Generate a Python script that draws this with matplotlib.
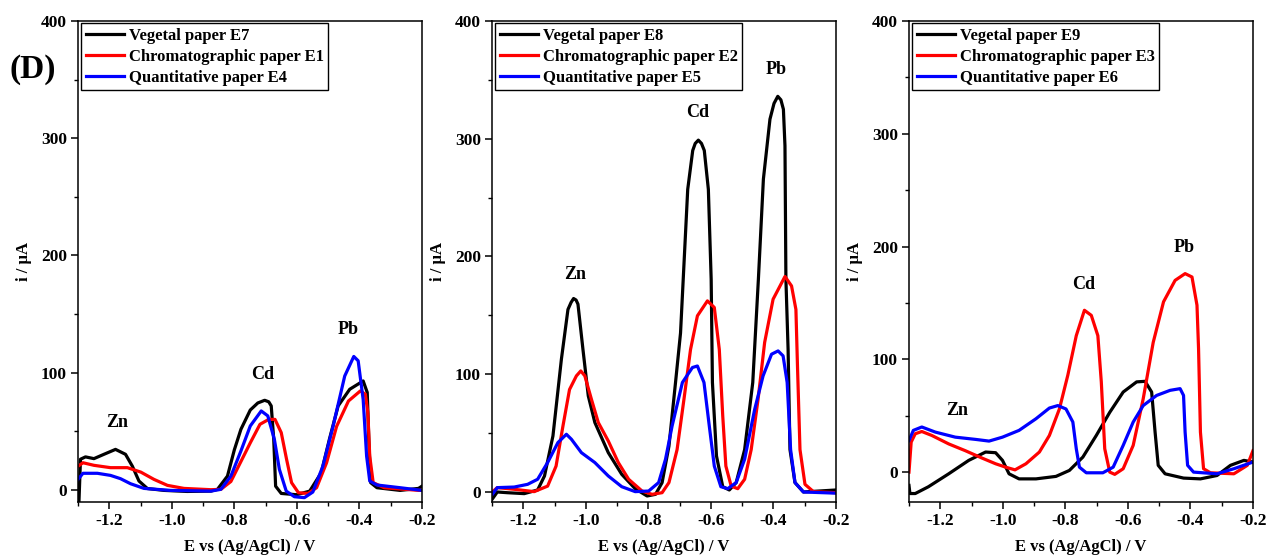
import matplotlib
matplotlib.use("Agg")
import matplotlib.pyplot as plt
from matplotlib.ticker import MultipleLocator

plt.rcParams['font.family'] = ['Liberation Serif', 'DejaVu Serif']
plt.rcParams['font.weight'] = 'bold'

# ---------------- Panel 1 (E7 / E1 / E4) ----------------
p1_black_x = [-1.297, -1.292, -1.276, -1.249, -1.217, -1.180, -1.148, -1.126, -1.105, -1.078, -1.025,
              -0.951, -0.875, -0.854, -0.822, -0.800, -0.779, -0.749, -0.725, -0.703, -0.690, -0.682,
              -0.674, -0.668, -0.650, -0.601, -0.559, -0.522, -0.496, -0.468, -0.431, -0.388, -0.375,
              -0.370, -0.364, -0.344, -0.270, -0.211, -0.200]
p1_black_y = [-11, 26, 28, 26.5, 30.2, 34.4, 30.2, 20, 7.4, 1, -0.6,
              -1.5, -1.2, 0.3, 11.6, 34, 51.5, 68, 74, 76.3, 75, 71.5,
              43, 3, -3.2, -4.3, -1.2, 14.5, 43, 71.5, 85.7, 92.8, 83,
              43, 6, 1.7, -0.6, 1.1, 3]

p1_red_x = [-1.300, -1.284, -1.249, -1.196, -1.142, -1.099, -1.057, -1.014, -0.961, -0.875, -0.843,
            -0.811, -0.779, -0.749, -0.718, -0.690, -0.670, -0.650, -0.633, -0.617, -0.595, -0.564,
            -0.537, -0.505, -0.473, -0.435, -0.397, -0.381, -0.373, -0.367, -0.356, -0.321, -0.210, -0.200]
p1_red_y = [20, 23, 20.8, 18.8, 18.8, 15, 8.8, 3.7, 1.1, 0, 0.3,
            7, 24, 40, 55.8, 60, 60, 48.7, 26, 6, -2.6, -3.2,
            1.7, 23, 54, 75.7, 84.3, 81.5, 65.8, 28.7, 6, 1.7, -0.6, -0.5]

p1_blue_x = [-1.300, -1.284, -1.238, -1.196, -1.164, -1.132, -1.089, -1.004, -0.875, -0.843, -0.811,
             -0.779, -0.749, -0.714, -0.693, -0.672, -0.656, -0.634, -0.608, -0.576, -0.549, -0.517,
             -0.484, -0.447, -0.418, -0.404, -0.388, -0.377, -0.367, -0.344, -0.270, -0.200]
p1_blue_y = [8.8, 14, 14, 12.2, 9.4, 5.1, 1.1, -0.6, -1.2, 0.3, 11.6,
             33, 54.4, 67.2, 63, 43, 17.4, -1.2, -6, -6.8, -2, 20,
             54.4, 97, 113.7, 110, 77, 28.7, 7.4, 4, 1.7, -0.6]

# ---------------- Panel 2 (E8 / E2 / E5) ----------------
p2_black_x = [-1.299, -1.283, -1.251, -1.197, -1.154, -1.132, -1.105, -1.078, -1.057, -1.047, -1.039,
              -1.031, -1.025, -1.009, -0.992, -0.971, -0.928, -0.885, -0.842, -0.804, -0.777, -0.756,
              -0.734, -0.713, -0.697, -0.674, -0.658, -0.650, -0.640, -0.630, -0.621, -0.608, -0.599,
              -0.595, -0.582, -0.562, -0.541, -0.519, -0.492, -0.466, -0.448, -0.432, -0.411, -0.398,
              -0.386, -0.376, -0.368, -0.363, -0.360, -0.353, -0.347, -0.331, -0.304, -0.200]
p2_black_y = [-6, 0, -0.6, -1.4, 1.7, 13.6, 47.6, 112.7, 155, 161, 164.3,
              163, 159.5, 121, 81.6, 59, 33.4, 15, 2.8, -3.4, -2, 7.9,
              39, 93, 135, 257, 290, 296, 298.8, 296, 290, 257, 180.7,
              93, 30.6, 4.5, 1.7, 8, 36, 93, 180.7, 265.7, 316.6, 330,
              336, 333, 325, 294, 180.7, 121, 36, 8, 0, 1.7]

p2_red_x = [-1.299, -1.283, -1.229, -1.165, -1.122, -1.095, -1.073, -1.052, -1.030, -1.016, -1.003,
            -0.982, -0.960, -0.928, -0.896, -0.863, -0.820, -0.788, -0.756, -0.734, -0.708, -0.686,
            -0.665, -0.643, -0.611, -0.589, -0.573, -0.562, -0.552, -0.535, -0.514, -0.492, -0.471,
            -0.449, -0.428, -0.401, -0.363, -0.342, -0.328, -0.323, -0.315, -0.299, -0.272, -0.200]
p2_red_y = [0, 3.7, 2.3, 0.3, 5, 22, 56, 87, 98.6, 102.8, 98.6,
            78.8, 59, 43.3, 25, 10.8, 0.8, -2, -0.6, 8, 36, 78.8,
            121, 149.6, 162.3, 156.7, 121, 64.6, 22, 5, 2.8, 10.8, 36,
            78.8, 127, 163.7, 183, 175, 155, 107, 36, 6.5, 0.3, -0.6]

p2_blue_x = [-1.299, -1.283, -1.229, -1.186, -1.154, -1.122, -1.089, -1.062, -1.046, -1.014, -0.971,
             -0.928, -0.885, -0.842, -0.799, -0.767, -0.745, -0.724, -0.691, -0.659, -0.643, -0.622,
             -0.605, -0.589, -0.568, -0.546, -0.519, -0.492, -0.460, -0.433, -0.406, -0.385, -0.369,
             -0.356, -0.345, -0.331, -0.304, -0.200]
p2_blue_y = [-2, 3.7, 4.2, 6.5, 10.8, 25, 42, 49, 44.8, 33.4, 25,
             13.6, 4.5, 0.3, 0.8, 8, 27.8, 56, 93, 105.7, 107, 93,
             56, 22, 4.5, 2.8, 8, 27.8, 70, 98.6, 117, 119.8, 115.6,
             93, 36, 8, 0, -1]

# ---------------- Panel 3 (E9 / E3 / E6) ----------------
p3_black_x = [-1.300, -1.297, -1.280, -1.238, -1.173, -1.109, -1.055, -1.023, -1.001, -0.980, -0.948,
              -0.894, -0.830, -0.787, -0.744, -0.701, -0.658, -0.615, -0.572, -0.545, -0.524, -0.513,
              -0.503, -0.481, -0.422, -0.368, -0.315, -0.272, -0.229, -0.200]
p3_black_y = [-11.8, -19, -19, -13, -1.5, 10.4, 17.8, 17.2, 10.4, -1.5, -6,
              -6, -3.8, 1.5, 13.3, 32.5, 53, 71, 80, 80.5, 71, 35.5,
              6, -1.5, -5.3, -6, -3, 6, 10.4, 8.9]

p3_red_x = [-1.300, -1.293, -1.280, -1.259, -1.227, -1.173, -1.120, -1.066, -1.023, -0.991, -0.961,
            -0.926, -0.883, -0.851, -0.819, -0.792, -0.765, -0.739, -0.717, -0.696, -0.685, -0.674,
            -0.658, -0.642, -0.615, -0.583, -0.551, -0.519, -0.486, -0.449, -0.417, -0.395, -0.379,
            -0.374, -0.368, -0.358, -0.336, -0.261, -0.218, -0.200]
p3_red_y = [0, 26.6, 34, 36, 32.5, 25, 19, 12.4, 7.4, 4.4, 2,
            7.4, 17.8, 32.5, 56, 86, 121, 143.5, 139, 121, 80, 20.7,
            0, -2, 3, 23.7, 65, 115, 151, 170, 176, 173, 148,
            109.5, 35.5, 3, -0.6, -1.5, 6, 19]

p3_blue_x = [-1.300, -1.286, -1.259, -1.216, -1.152, -1.087, -1.044, -1.001, -0.948, -0.894, -0.851,
             -0.824, -0.798, -0.776, -0.765, -0.755, -0.733, -0.680, -0.647, -0.615, -0.583, -0.551,
             -0.508, -0.465, -0.433, -0.422, -0.417, -0.409, -0.390, -0.315, -0.261, -0.200]
p3_blue_y = [28, 37, 40, 35.5, 31, 29, 27.5, 31, 37, 47.3, 56.8,
             59, 56, 44.4, 20.7, 4.4, -0.6, -0.6, 4.4, 23.7, 44.4, 59,
             68, 72.5, 74, 68, 35.5, 6, 0, -1.5, 3, 8.9]

labels1 = ["Vegetal paper E7", "Chromatographic paper E1", "Quantitative paper E4"]
labels2 = ["Vegetal paper E8", "Chromatographic paper E2", "Quantitative paper E5"]
labels3 = ["Vegetal paper E9", "Chromatographic paper E3", "Quantitative paper E6"]

peak_names = ["Zn", "Cd", "Pb"]
peak_pos1 = [(-1.175, 57), (-0.711, 98), (-0.435, 137)]
peak_pos2 = [(-1.035, 185), (-0.641, 322), (-0.392, 359)]
peak_pos3 = [(-1.146, 55), (-0.740, 166), (-0.420, 199)]

ymins = [-10.5, -8.5, -26.5]

panels = [
    ((p1_black_x, p1_black_y), (p1_red_x, p1_red_y), (p1_blue_x, p1_blue_y), labels1, peak_pos1),
    ((p2_black_x, p2_black_y), (p2_red_x, p2_red_y), (p2_blue_x, p2_blue_y), labels2, peak_pos2),
    ((p3_black_x, p3_black_y), (p3_red_x, p3_red_y), (p3_blue_x, p3_blue_y), labels3, peak_pos3),
]
lefts = [0.0616, 0.3886, 0.718]

fig = plt.figure(figsize=(12.66, 5.55), dpi=100)
for i, (blk, red, blu, labs, ppos) in enumerate(panels):
    ax = fig.add_axes([lefts[i], 0.0955, 0.2717, 0.8667])
    ax.plot(blk[0], blk[1], color='black', lw=2.3, label=labs[0])
    ax.plot(red[0], red[1], color='#ff0000', lw=2.3, label=labs[1])
    ax.plot(blu[0], blu[1], color='#0000ff', lw=2.3, label=labs[2])
    for name, (px, py) in zip(peak_names, ppos):
        ax.text(px, py, name, fontsize=13, fontweight='bold', ha='center', va='center')
    ax.set_xlim(-1.3, -0.2)
    ax.set_ylim(ymins[i], 400)
    ax.xaxis.set_major_locator(MultipleLocator(0.2))
    ax.xaxis.set_minor_locator(MultipleLocator(0.1))
    ax.yaxis.set_major_locator(MultipleLocator(100))
    ax.yaxis.set_minor_locator(MultipleLocator(50))
    ax.xaxis.set_major_formatter(plt.FuncFormatter(lambda v, p: f"{v:.1f}"))
    ax.tick_params(which='major', direction='out', length=5, width=1.1, labelsize=12.5, pad=3)
    ax.tick_params(which='minor', direction='out', length=3, width=1.0)
    for s in ax.spines.values():
        s.set_linewidth(1.1)
    for t in ax.get_xticklabels() + ax.get_yticklabels():
        t.set_fontweight('bold')
    ax.set_xlabel("E vs (Ag/AgCl) / V", fontsize=12, fontweight='bold')
    ax.set_ylabel("i / µA", fontsize=12, fontweight='bold')
    ax.yaxis.set_label_coords(-0.135, 0.5)
    ax.xaxis.set_label_coords(0.5, -0.076)
    leg = ax.legend(loc='upper left', bbox_to_anchor=(0.01, 0.995), borderaxespad=0,
                    fancybox=False, edgecolor='black', framealpha=1,
                    prop={'size': 12, 'weight': 'bold'}, handlelength=2.3,
                    labelspacing=0.3, borderpad=0.25, handletextpad=0.3)
    leg.get_frame().set_linewidth(1.0)

fig.text(0.026, 0.874, "(D)", fontsize=24, fontweight='bold', ha='center', va='center')

fig.savefig("out.png", dpi=100)
